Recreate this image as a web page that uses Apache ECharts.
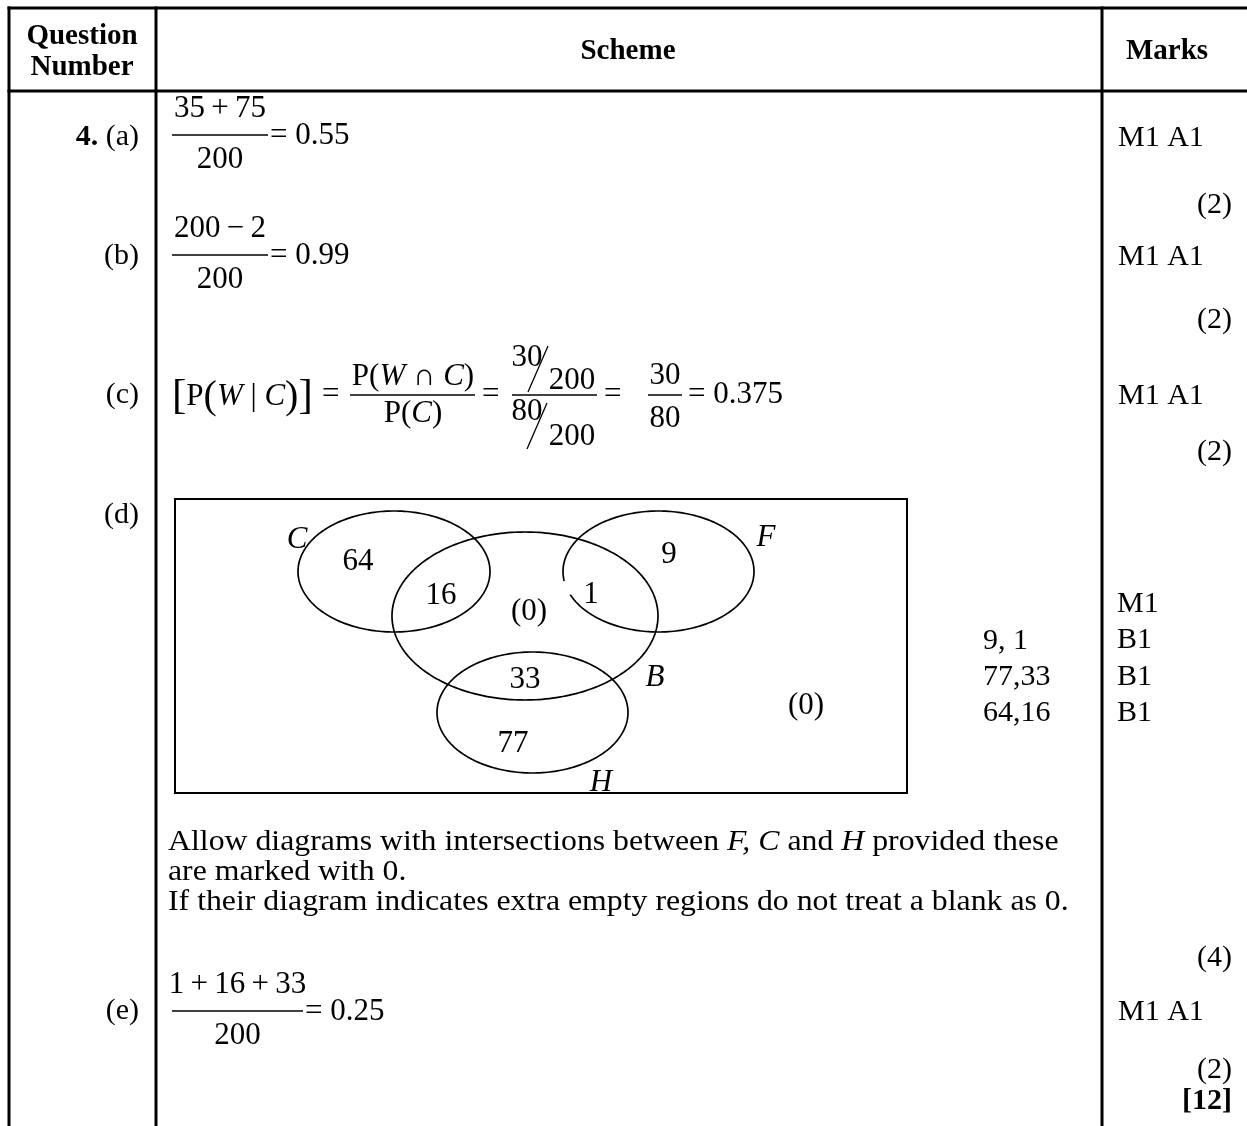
<!DOCTYPE html>
<html>
<head>
<meta charset="utf-8">
<title>Mark scheme – Question 4</title>
<script src="https://cdn.jsdelivr.net/npm/echarts@6/dist/echarts.min.js"></script>
<style>
html,body{margin:0;padding:0;background:#fff;}
#chart{width:1247px;height:1126px;}
</style>
</head>
<body>
<div id="chart"></div>
<script>
// ---------------- data ----------------
const headers = ['Question\nNumber', 'Scheme', 'Marks'];
const questionNumber = '4.';
const partLabels = ['(a)', '(b)', '(c)', '(d)', '(e)'];
const markCodes = ['M1 A1', 'M1 A1', 'M1 A1', 'M1 A1'];          // parts a, b, c, e
const partTotals = ['(2)', '(2)', '(2)', '(4)', '(2)'];
const totalMarks = '[12]';
const fracNumerators = ['35\u2009+\u200975', '200\u2009−\u20092', '1\u2009+\u200916\u2009+\u200933'];   // parts a, b, e
const fracDenominators = ['200', '200', '200'];
const answers = ['0.55', '0.99', '0.25'];
const partCCounts = ['30', '80', '200'];                          // n(W∩C), n(C), total
const partCAnswer = '0.375';
const vennSets = ['C', 'B', 'F', 'H'];
const vennRegionLabels = ['64', '16', '(0)', '1', '9', '33', '77', '(0)'];
const dChecks = ['9, 1', '77,33', '64,16'];
const dMarks = ['M1', 'B1', 'B1', 'B1'];
const notes = [
  'Allow diagrams with intersections between {i|F, C} and {i|H} provided these',
  'are marked with 0.',
  'If their diagram indicates extra empty regions do not treat a blank as 0.'
];

// ---------------- layout ----------------
const SERIF = '"Liberation Serif","Times New Roman","DejaVu Serif",serif';
const font = (size, weight, style) => `${style || 'normal'} ${weight || 'normal'} ${size}px ${SERIF}`;
const TXT = 30, MATH = 31, HDR = 29;
const rowY = {a: 137, b: 256, c: 395, d: 515, e: 1011};
const fracY = {a: 135, b: 255, e: 1011};
const totalsY = [205, 320, 452, 958, 1070];
const vennEllipse = {C: [394, 571.5, 96, 60.5], B: [525, 616, 133, 84], F: [658.5, 571.5, 95.5, 60.5], H: [532.5, 712.5, 95.5, 60.5]};
const vennGap = {F: [158, 171]};
const vennSetPos = {C: [297, 540], B: [655, 678], F: [766, 538], H: [601, 783]};
const vennRegionPos = [[358, 562], [441, 596], [529, 612], [591, 595], [669, 555], [525, 680], [513, 744], [806, 706]];
const vennBox = [175, 499, 907, 793];

const G = [];
function txt(x, y, text, f, align, rich, sx) {
  const style = {text: text, font: f, fill: '#000', textAlign: align || 'left', textVerticalAlign: 'middle'};
  if (rich) style.rich = rich;
  const el = {type: 'text', x: x, y: y, silent: true, style: style};
  if (sx) el.scaleX = sx;
  return el;
}
function ln(x1, y1, x2, y2, w) {
  return {type: 'line', silent: true, shape: {x1: x1, y1: y1, x2: x2, y2: y2}, style: {stroke: '#000', lineWidth: w}};
}
function frac(x1, x2, y, num, den) {
  const cx = (x1 + x2) / 2;
  G.push(ln(x1, y, x2, y, 1.6));
  G.push(txt(cx, y - 26, num, font(MATH), 'center'));
  G.push(txt(cx, y + 25, den, font(MATH), 'center'));
}

// table rules
G.push(ln(7.5, 8, 1247, 8, 3));
G.push(ln(7.5, 91, 1247, 91, 3));
G.push(ln(9, 6.5, 9, 1126, 3));
G.push(ln(156, 6.5, 156, 1126, 3));
G.push(ln(1102, 6.5, 1102, 1126, 3));

// header
const hdr = headers[0].split('\n');
G.push(txt(82, 37, hdr[0], font(HDR, 'bold'), 'center'));
G.push(txt(82, 68, hdr[1], font(HDR, 'bold'), 'center'));
G.push(txt(628, 52, headers[1], font(HDR, 'bold'), 'center'));
G.push(txt(1167, 52, headers[2], font(HDR, 'bold'), 'center'));

// part labels
const partKeys = ['a', 'b', 'c', 'd', 'e'];
partKeys.forEach((k, i) => {
  if (i === 0) {
    G.push(txt(139, rowY[k], '{b|' + questionNumber + '} ' + partLabels[i], font(TXT), 'right',
      {b: {font: font(TXT, 'bold')}}));
  } else {
    G.push(txt(139, rowY[k], partLabels[i], font(TXT), 'right'));
  }
});

// marks
['a', 'b', 'c', 'e'].forEach((k, i) => G.push(txt(1118, rowY[k] + 1, markCodes[i], font(TXT))));
partTotals.forEach((t, i) => G.push(txt(1232, totalsY[i], t, font(TXT), 'right')));
G.push(txt(1232, 1101, totalMarks, font(TXT, 'bold'), 'right'));

// (a), (b), (e)
[['a', 172, 268], ['b', 172, 268], ['e', 172, 303]].forEach((r, i) => {
  const y = fracY[r[0]];
  frac(r[1], r[2], y, fracNumerators[i], fracDenominators[i]);
  G.push(txt(r[2] + 2, y + 1, '= ' + answers[i], font(MATH)));
});

// (c)
(function () {
  const y = rowY.c;
  const it = font(MATH, 'normal', 'italic'), nm = font(MATH);
  G.push(txt(172, y + 2, '{bb|[}{n|P}{bp|(}{i|W}{n| | }{i|C}{bp|)}{bb|]}', nm, 'left', {
    bb: {font: font(43)}, bp: {font: font(40)}, n: {font: nm}, i: {font: it}
  }));
  G.push(txt(322, y, '=', nm));
  G.push(ln(350, y, 475, y, 1.6));
  G.push(txt(413, y - 18, '{n|P(}{i|W}{n| ∩ }{i|C}{n|)}', nm, 'center', {n: {font: nm}, i: {font: it}}));
  G.push(txt(413, y + 19, '{n|P(}{i|C}{n|)}', nm, 'center', {n: {font: nm}, i: {font: it}}));
  G.push(txt(482, y, '=', nm));
  // nested bevelled fraction
  G.push(ln(512, y, 597, y, 1.6));
  G.push(txt(527, y - 37, partCCounts[0], nm, 'center'));
  G.push(ln(528, y - 3, 548, y - 49, 1.3));
  G.push(txt(572, y - 14, partCCounts[2], nm, 'center'));
  G.push(txt(527, y + 17, partCCounts[1], nm, 'center'));
  G.push(ln(527, y + 54, 547, y + 8, 1.3));
  G.push(txt(572, y + 42, partCCounts[2], nm, 'center'));
  G.push(txt(604, y, '=', nm));
  G.push(ln(648, y, 682, y, 1.6));
  G.push(txt(665, y - 19, partCCounts[0], nm, 'center'));
  G.push(txt(665, y + 24, partCCounts[1], nm, 'center'));
  G.push(txt(688, y, '= ' + partCAnswer, nm));
})();

// (d) side column
dChecks.forEach((t, i) => G.push(txt(983, 641 + i * 36, t, font(TXT))));
dMarks.forEach((t, i) => G.push(txt(1117, 604 + i * 36.5, t, font(TXT))));

// notes
notes.forEach((t, i) => G.push(txt(168, 842 + i * 30, t, font(TXT), 'left',
  {i: {font: font(TXT, 'normal', 'italic')}}, 1.06)));

// ---------------- Venn via cartesian scales ----------------
const ellipseData = vennSets.map(n => vennEllipse[n].concat(vennGap[n] || [0, 0]));
const setLabelData = vennSets.map((n, i) => vennSetPos[n].concat([i]));
const regionData = vennRegionLabels.map((t, i) => vennRegionPos[i].concat([i]));

const chart = echarts.init(document.getElementById('chart'), null, {renderer: 'canvas'});
chart.setOption({
  animation: false,
  backgroundColor: '#fff',
  grid: {left: 0, top: 0, right: 0, bottom: 0},
  xAxis: {type: 'value', min: 0, max: 1247, show: false},
  yAxis: {type: 'value', min: 0, max: 1126, inverse: true, show: false},
  graphic: G,
  series: [
    {
      type: 'custom', name: 'box', silent: true,
      data: [vennBox],
      renderItem: function (p, api) {
        const a = api.coord([api.value(0), api.value(1)]);
        const b = api.coord([api.value(2), api.value(3)]);
        return {type: 'rect', shape: {x: a[0], y: a[1], width: b[0] - a[0], height: b[1] - a[1]},
          style: {stroke: '#000', fill: 'none', lineWidth: 2}};
      }
    },
    {
      type: 'custom', name: 'sets', silent: true,
      data: ellipseData,
      renderItem: function (p, api) {
        const c = api.coord([api.value(0), api.value(1)]);
        const s = api.size([api.value(2), api.value(3)]);
        const g0 = api.value(4), g1 = api.value(5);
        const gap = g1 > g0;
        const start = gap ? g1 : 0, end = gap ? g0 + 360 : 360;
        const pts = [];
        for (let a = start; a <= end + 1e-6; a += 1.5) {
          const r = a * Math.PI / 180;
          pts.push([c[0] + s[0] * Math.cos(r), c[1] + s[1] * Math.sin(r)]);
        }
        return {type: 'polyline', shape: {points: pts}, style: {stroke: '#000', fill: 'none', lineWidth: 1.7}};
      }
    },
    {
      type: 'custom', name: 'setNames', silent: true,
      data: setLabelData,
      renderItem: function (p, api) {
        const c = api.coord([api.value(0), api.value(1)]);
        return {type: 'text', x: c[0], y: c[1], style: {text: vennSets[api.value(2)],
          font: font(MATH, 'normal', 'italic'), fill: '#000', textAlign: 'center', textVerticalAlign: 'middle'}};
      }
    },
    {
      type: 'custom', name: 'regions', silent: true,
      data: regionData,
      renderItem: function (p, api) {
        const c = api.coord([api.value(0), api.value(1)]);
        return {type: 'text', x: c[0], y: c[1], style: {text: vennRegionLabels[api.value(2)],
          font: font(MATH), fill: '#000', textAlign: 'center', textVerticalAlign: 'middle'}};
      }
    }
  ]
});
</script>
</body>
</html>
